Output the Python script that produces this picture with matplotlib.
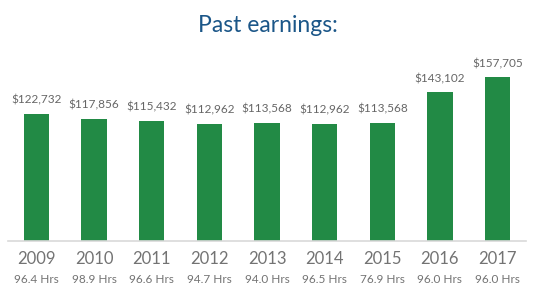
import numpy as np
import matplotlib.pyplot as plt

years = ['2009', '2010', '2011', '2012', '2013', '2014', '2015', '2016', '2017']
earnings = [122732, 117856, 115432, 112962, 113568, 112962, 113568, 143102, 157705]
hours = [96.4, 98.9, 96.6, 94.7, 94.0, 96.5, 76.9, 96.0, 96.0]

plt.rcParams['font.family'] = ['Lato', 'DejaVu Sans']

fig = plt.figure(figsize=(5.35, 2.97), dpi=100)
ax = fig.add_axes([7.7 / 535, 56 / 297, 518.6 / 535, 181 / 297])

x = np.arange(len(years))
bars = ax.bar(x, earnings, width=0.44, color='#228a45')
ax.set_xlim(-0.5, len(years) - 0.5)
ax.set_ylim(0, 174400)

for xi, v in zip(x, earnings):
    ax.annotate(f'${v:,}', (xi, v), xytext=(0, 6), textcoords='offset points',
                ha='center', va='bottom', fontsize=8.5, color='#666666')

for xi, y, h in zip(x, years, hours):
    ax.annotate(y, (xi, 0), xycoords=('data', 'axes fraction'), xytext=(0, -7),
                textcoords='offset points', ha='center', va='top',
                fontsize=12, color='#737373')
    ax.annotate(f'{h:.1f} Hrs', (xi, 0), xycoords=('data', 'axes fraction'), xytext=(0, -24),
                textcoords='offset points', ha='center', va='top',
                fontsize=8.5, color='#737373')

for s in ['top', 'right', 'left']:
    ax.spines[s].set_visible(False)
ax.spines['bottom'].set_color('#d9d9d9')
ax.spines['bottom'].set_linewidth(1.2)
ax.set_xticks([])
ax.set_yticks([])

fig.text(0.5, 1 - 25 / 297, 'Past earnings:', ha='center', va='center',
         fontsize=16.5, color='#1b5688')

fig.savefig('out.png', dpi=100)
